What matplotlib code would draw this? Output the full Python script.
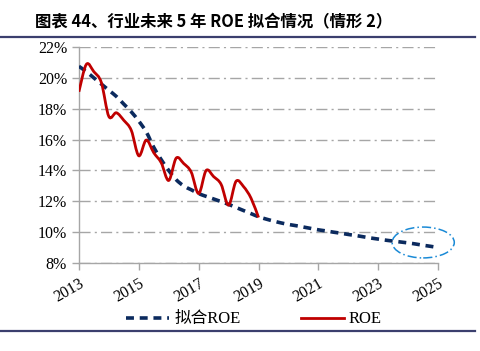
import numpy as np
import matplotlib.pyplot as plt
from matplotlib.patches import Ellipse, PathPatch
from matplotlib.path import Path
from matplotlib.lines import Line2D

# quarterly data, 2013Q1 .. 2025Q1
years = [2013, 2015, 2017, 2019, 2021, 2023, 2025]

roe = [19.1, 20.88, 20.4, 19.7,
       17.5, 17.74, 17.25, 16.6,
       14.95, 15.97, 15.15, 14.5,
       13.35, 14.8, 14.45, 13.9,
       12.5, 14.0, 13.6, 13.1,
       11.75, 13.3, 12.95, 12.2,
       10.95]

fit_roe = [20.75, 20.4, 20.0, 19.6,
           19.2, 18.8, 18.3, 17.8,
           17.2, 16.5, 15.5, 14.7,
           14.0, 13.4, 13.0, 12.75,
           12.5, 12.32, 12.15, 11.98,
           11.8, 11.6, 11.4, 11.2,
           11.0, 10.85, 10.72, 10.6,
           10.5, 10.42, 10.33, 10.24,
           10.15, 10.08, 10.0, 9.93,
           9.85, 9.78, 9.7, 9.62,
           9.55, 9.48, 9.42, 9.36,
           9.3, 9.23, 9.15, 9.08,
           9.0]

serif = ['Liberation Serif', 'Noto Sans CJK SC']


def smooth_path(y):
    # excel-like smoothed line: bezier segments through the data points
    x = np.arange(len(y), dtype=float)
    y = np.asarray(y, dtype=float)
    verts = [(x[0], y[0])]
    codes = [Path.MOVETO]
    for i in range(len(y) - 1):
        x0, y0 = (x[i - 1], y[i - 1]) if i > 0 else (x[i], y[i])
        x3, y3 = (x[i + 2], y[i + 2]) if i + 2 < len(y) else (x[i + 1], y[i + 1])
        c1 = (x[i] + (x[i + 1] - x0) / 6, y[i] + (y[i + 1] - y0) / 6)
        c2 = (x[i + 1] - (x3 - x[i]) / 6, y[i + 1] - (y3 - y[i]) / 6)
        verts += [c1, c2, (x[i + 1], y[i + 1])]
        codes += [Path.CURVE4] * 3
    return Path(verts, codes)


fig = plt.figure(figsize=(4.81, 3.51), dpi=100)
ax = fig.add_axes([0.164, 0.2507, 0.747, 0.6153])

ax.add_patch(PathPatch(smooth_path(fit_roe), fill=False, ec='#0b2a5e', lw=2.6,
                       ls=(0, (2.2, 1.6)), capstyle='butt', zorder=3))
ax.add_patch(PathPatch(smooth_path(roe), fill=False, ec='#c00000', lw=2.0,
                       joinstyle='round', zorder=4))

# highlight ellipse around the last forecasts
ax.add_patch(Ellipse((46.0, 9.33), 8.3, 2.0, fill=False, ec='#1a8ad6',
                     lw=1.1, ls=(0, (6, 2, 1, 2)), clip_on=False, zorder=5))

ax.set_xlim(0, 48)
ax.set_ylim(8, 22)
ax.set_yticks(np.arange(8, 23, 2))
ax.set_yticklabels([f'{v}%' for v in range(8, 23, 2)], fontfamily=serif, fontsize=11.5)
ax.set_xticks([(y - 2013) * 4 for y in years])
ax.set_xticklabels([str(y) for y in years], rotation=30, ha='right',
                   rotation_mode='anchor', fontfamily=serif, fontsize=11.5)

ax.yaxis.grid(True, color='#a6a6a6', lw=1.0, ls=(0, (8, 3, 1.5, 3)))
ax.set_axisbelow(True)
for s in ['top', 'right']:
    ax.spines[s].set_visible(False)
for s in ['left', 'bottom']:
    ax.spines[s].set_color('#a6a6a6')
    ax.spines[s].set_linewidth(1.0)
ax.tick_params(axis='both', colors='#a6a6a6', length=5, width=1.0, labelcolor='black')
ax.tick_params(axis='x', pad=4)

handles = [Line2D([], [], color='#0b2a5e', lw=2.6, dashes=(2.2, 1.6)),
           Line2D([], [], color='#c00000', lw=2.0)]
fig.legend(handles, ['拟合ROE', 'ROE'], loc='center', bbox_to_anchor=(0.528, 0.09),
           ncol=2, frameon=False, prop={'family': serif, 'size': 12},
           handlelength=2.6, columnspacing=3.6, handletextpad=0.3)

fig.text(0.073, 0.935, '图表 44、行业未来 5 年 ROE 拟合情况（情形 2）',
         fontfamily=['Noto Sans CJK SC'], fontweight='bold', fontsize=11.8,
         ha='left', va='center')
fig.add_artist(Line2D([0.0, 0.988], [0.895, 0.895], color='#3b3f6e', lw=1.6))
fig.add_artist(Line2D([0.0, 0.988], [0.057, 0.057], color='#3b3f6e', lw=1.6))

fig.savefig('out.png', dpi=100)
